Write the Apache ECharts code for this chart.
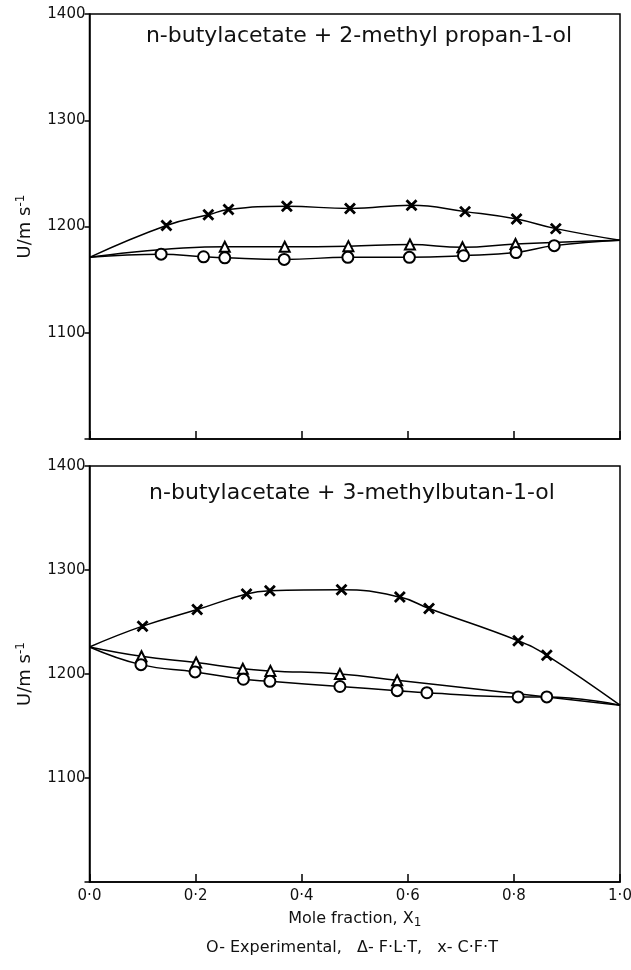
<!DOCTYPE html>
<html>
<head>
<meta charset="utf-8">
<script src="https://cdn.jsdelivr.net/npm/echarts@6/dist/echarts.min.js"></script>
<style>
  html, body { margin: 0; padding: 0; background: #fff; }
  #chart { width: 631px; height: 970px; }
</style>
</head>
<body>
<div id="chart"></div>
<script>
// mole fraction ticks
let xTicks = ["0·0", "0·2", "0·4", "0·6", "0·8", "1·0"]

// top panel: n-butylacetate + 2-methylpropan-1-ol
let topEnds = [1171, 1187]
let topExpX = [0.135, 0.215, 0.255, 0.367, 0.487, 0.603, 0.705, 0.804, 0.876]
let topExpU = [1174, 1171.5, 1170.5, 1169, 1171, 1171, 1172.5, 1175.5, 1182]
let topFltX = [0.255, 0.368, 0.488, 0.604, 0.703, 0.803]
let topFltU = [1181, 1181, 1181.5, 1183, 1180.5, 1183.5]
let topCftX = [0.145, 0.224, 0.262, 0.372, 0.491, 0.607, 0.708, 0.805, 0.879]
let topCftU = [1201, 1211, 1216, 1219, 1217, 1220, 1214, 1207, 1198]

// bottom panel: n-butylacetate + 3-methylbutan-1-ol
let botEnds = [1226, 1170]
let botExpX = [0.097, 0.199, 0.290, 0.340, 0.472, 0.580, 0.636, 0.808, 0.862]
let botExpU = [1209, 1202, 1195, 1193, 1188, 1184, 1182, 1178, 1178]
let botFltX = [0.098, 0.201, 0.289, 0.341, 0.472, 0.580]
let botFltU = [1217, 1211, 1205, 1203, 1200, 1194]
let botCftX = [0.100, 0.203, 0.296, 0.340, 0.475, 0.585, 0.640, 0.808, 0.862]
let botCftU = [1246, 1262, 1277, 1280, 1281, 1274, 1263, 1232, 1218]

let font = "DejaVu Sans"
let crossPath = "path://M0,1L1,0L5,4L9,0L10,1L6,5L10,9L9,10L5,6L1,10L0,9L4,5Z"

function buildData(ends, xs, us) {
	let data = [{ value: [0, ends[0]], symbol: "none" }]
	xs.forEach(function (x, i) {
		data.push([x, us[i]])
	})
	data.push({ value: [1, ends[1]], symbol: "none" })
	return data
}

function makeSeries(idx, ends, xs, us, symbol, size) {
	return {
		type: "line",
		xAxisIndex: idx,
		yAxisIndex: idx,
		data: buildData(ends, xs, us),
		smooth: 0.45,
		symbol: symbol,
		symbolSize: size,
		showAllSymbol: true,
		lineStyle: { color: "#000", width: 1.5 },
		itemStyle: { color: "#000", borderColor: "#000", borderWidth: 1.4 },
		emphasis: { disabled: true },
		z: symbol == "emptyCircle" ? 4 : 3
	}
}

function xAxis(idx, withLabels) {
	return {
		type: "value",
		gridIndex: idx,
		min: 0,
		max: 1,
		interval: 0.2,
		axisLine: { show: true, lineStyle: { color: "#000", width: 1.5 } },
		axisTick: {
			show: true,
			inside: true,
			length: 8,
			lineStyle: { color: "#000", width: 1.5 }
		},
		splitLine: { show: false },
		axisLabel: {
			show: withLabels,
			color: "#111",
			fontFamily: font,
			fontSize: 15,
			margin: 7,
			formatter: function (v) {
				return xTicks[Math.round(v * 5)]
			}
		},
		name: withLabels ? "Mole fraction, X{sub|1}" : "",
		nameLocation: "middle",
		nameGap: 27,
		nameTextStyle: {
			color: "#111",
			fontFamily: font,
			fontSize: 16,
			rich: { sub: { fontFamily: font, fontSize: 12, verticalAlign: "bottom", padding: [8, 0, 0, 0] } }
		}
	}
}

function yAxis(idx) {
	return {
		type: "value",
		gridIndex: idx,
		min: 1000,
		max: 1400,
		interval: 100,
		axisLine: { show: true, lineStyle: { color: "#000", width: 1.5 } },
		axisTick: { show: true, length: 5, lineStyle: { color: "#000", width: 1.5 } },
		splitLine: { show: false },
		axisLabel: {
			color: "#111",
			fontFamily: font,
			fontSize: 15,
			margin: 4,
			formatter: function (v) {
				return v == 1000 ? "" : String(v)
			}
		},
		name: "U/m s{sup|-1}",
		nameLocation: "middle",
		nameRotate: 90,
		nameGap: 54,
		nameTextStyle: {
			color: "#111",
			fontFamily: font,
			fontSize: 18,
			rich: { sup: { fontFamily: font, fontSize: 12, verticalAlign: "top", padding: [0, 0, 9, 0] } }
		}
	}
}

let chart = echarts.init(document.getElementById("chart"), null, { renderer: "canvas" })

let option = {
	backgroundColor: "#fff",
	animation: false,
	grid: [
		{ left: 89.5, right: 11, top: 14, height: 425, show: true, borderColor: "#000", borderWidth: 1.5, outerBoundsMode: "none" },
		{ left: 89.5, right: 11, top: 466, height: 416, show: true, borderColor: "#000", borderWidth: 1.5, outerBoundsMode: "none" }
	],
	xAxis: [xAxis(0, false), xAxis(1, true)],
	yAxis: [yAxis(0), yAxis(1)],
	series: [
		makeSeries(0, topEnds, topCftX, topCftU, crossPath, 10),
		makeSeries(0, topEnds, topFltX, topFltU, "emptyTriangle", 10),
		makeSeries(0, topEnds, topExpX, topExpU, "emptyCircle", 11),
		makeSeries(1, botEnds, botCftX, botCftU, crossPath, 10),
		makeSeries(1, botEnds, botFltX, botFltU, "emptyTriangle", 10),
		makeSeries(1, botEnds, botExpX, botExpU, "emptyCircle", 11)
	],
	graphic: [
		{
			type: "text", x: 359, y: 36,
			style: { text: "n-butylacetate + 2-methyl propan-1-ol", font: "22px " + font, fill: "#111", align: "center", verticalAlign: "middle" }
		},
		{
			type: "text", x: 352, y: 493,
			style: { text: "n-butylacetate + 3-methylbutan-1-ol", font: "22px " + font, fill: "#111", align: "center", verticalAlign: "middle" }
		},
		{
			type: "text", x: 352, y: 948,
			style: { text: "O- Experimental,   Δ- F·L·T,   x- C·F·T", font: "16px " + font, fill: "#111", align: "center", verticalAlign: "middle" }
		}
	]
}

chart.setOption(option)
</script>
</body>
</html>
